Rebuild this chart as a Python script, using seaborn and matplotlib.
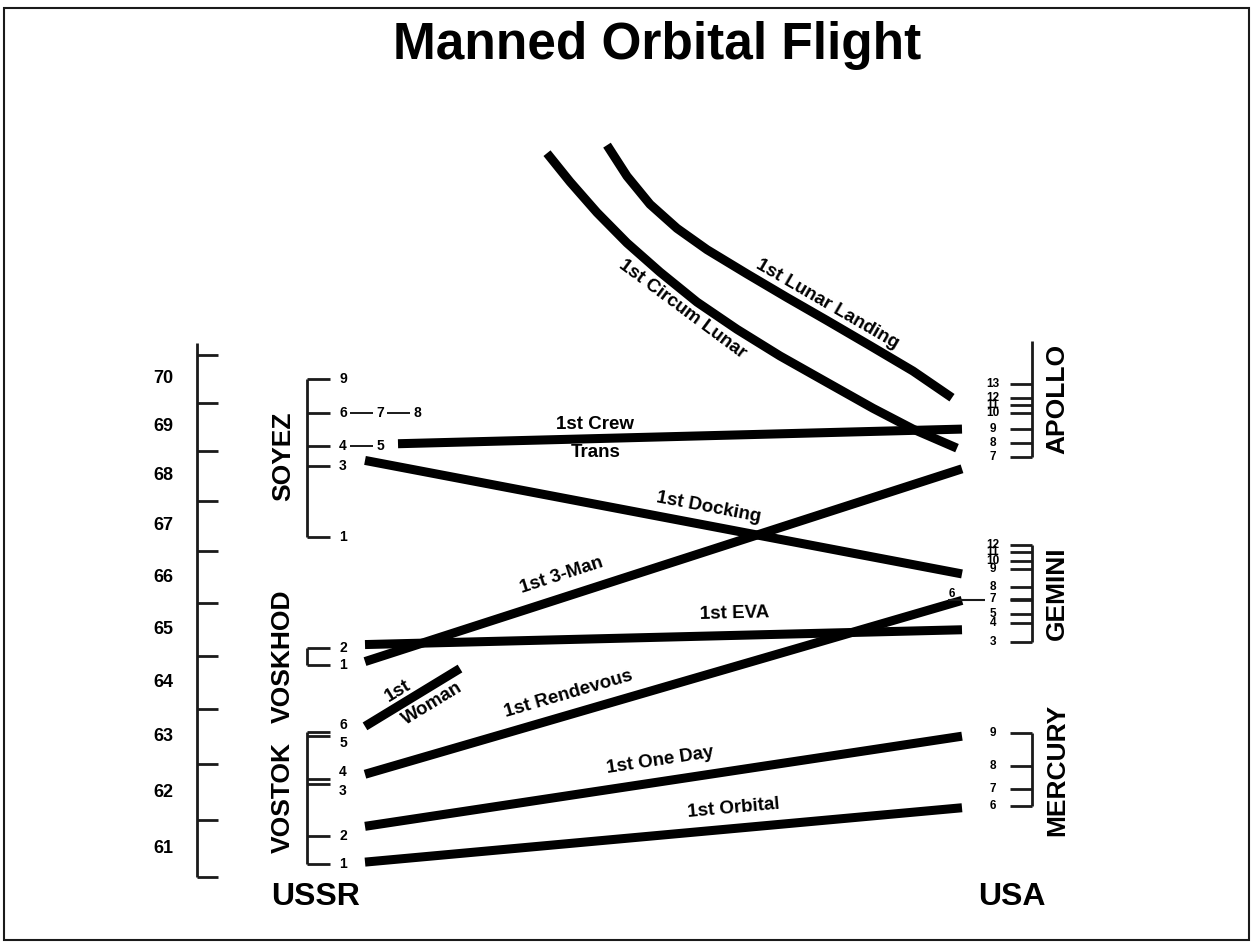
import numpy as np
import pandas as pd
import seaborn as sns
import matplotlib.pyplot as plt

# left scale, labelled 61..70
years = list(range(1961, 1971))

# Soviet flights (decimal year)
vostok_num = [1, 2, 3, 4, 5, 6]
vostok_year = [1961.23, 1961.72, 1962.64, 1962.73, 1963.51, 1963.58]
voskhod_num = [1, 2]
voskhod_year = [1964.83, 1965.15]
soyez_num = [1, 3, 4, 5, 6, 7, 8, 9]
soyez_year = [1967.28, 1968.70, 1969.11, 1969.11, 1969.79, 1969.79, 1969.79, 1970.50]

# US flights
mercury_num = [6, 7, 8, 9]
mercury_year = [1962.25, 1962.55, 1962.96, 1963.56]
gemini_num = [3, 4, 5, 6, 7, 8, 9, 10, 11, 12]
gemini_year = [1965.26, 1965.62, 1965.79, 1966.05, 1966.07, 1966.31, 1966.65, 1966.82, 1966.98, 1967.13]
apollo_num = [7, 8, 9, 10, 11, 12, 13]
apollo_year = [1968.87, 1969.17, 1969.45, 1969.79, 1969.94, 1970.09, 1970.39]
apollo_top = 1971.3

# the "firsts": year where each line leaves the USSR side / reaches the USA side
firsts = ['1st Orbital', '1st One Day', '1st Rendevous', '1st 3-Man', '1st EVA', '1st Docking', '1st Crew Trans']
ussr_year = [1961.26, 1961.89, 1962.82, 1964.89, 1965.21, 1968.81, 1969.15]
usa_year = [1962.22, 1963.51, 1966.05, 1968.64, 1965.49, 1966.56, 1969.45]

# 1st woman has no US match, just a short stub
woman_year = [1963.69, 1964.76]

# lunar flights come in from the top of the page
circum_year = [1975.52, 1974.85, 1974.14, 1973.45, 1972.80, 1972.14, 1971.55, 1970.98, 1970.42, 1969.88, 1969.45, 1969.06]
landing_year = [1975.71, 1974.98, 1974.33, 1973.78, 1973.30, 1972.76, 1972.24, 1971.74, 1971.20, 1970.66, 1970.10]

# ---- layout ----
circum_x = [547, 570, 597, 627, 660, 697, 737, 780, 827, 873, 913, 957]
landing_x = [607, 627, 650, 677, 707, 747, 787, 827, 870, 913, 952]
L, R = 365, 962          # where the lines start / end
CREW_L, WOMAN_R = 398, 460

# the original's year spacing shrinks a bit toward the top
A, B = 57.4, 0.52


def fwd(y):
    k = np.asarray(y, dtype=float) - 1961
    return A * k - B * k ** 2


def inv(u):
    u = np.asarray(u, dtype=float)
    return 1961 + (A - np.sqrt(np.maximum(A * A - 4 * B * u, 0))) / (2 * B)


sns.set_theme(style='white')
plt.rcParams['font.family'] = ['Liberation Sans', 'DejaVu Sans']
plt.rcParams['text.color'] = 'black'

fig = plt.figure(figsize=(12.53, 9.42), dpi=100)
ax = fig.add_axes([0, 0, 1, 1])
ax.set_yscale('function', functions=(fwd, inv))

rows = []
for name, y0, y1 in zip(firsts, ussr_year, usa_year):
    x0 = CREW_L if name == '1st Crew Trans' else L
    rows += [dict(event=name, x=x0, year=y0), dict(event=name, x=R, year=y1)]
rows += [dict(event='1st Woman', x=L, year=woman_year[0]),
         dict(event='1st Woman', x=WOMAN_R, year=woman_year[1])]
rows += [dict(event='1st Circum Lunar', x=x, year=y) for x, y in zip(circum_x, circum_year)]
rows += [dict(event='1st Lunar Landing', x=x, year=y) for x, y in zip(landing_x, landing_year)]
seg = pd.DataFrame(rows)

sns.lineplot(data=seg, x='x', y='year', units='event', estimator=None, sort=False,
             color='black', lw=6.5, solid_capstyle='butt', solid_joinstyle='round',
             legend=False, ax=ax)

ax.set_xlim(0, 1253)
ax.set_ylim(float(inv(-65)), float(inv(877)))
ax.axis('off')

# year scale on the left
AX_X = 197
ax.vlines(AX_X, 1961, 1971.26, color='k', lw=2)
ax.hlines(years + [1971], AX_X, AX_X + 21, color='k', lw=2)
for y in years:
    ax.text(163, y + 0.5, str(y)[2:], ha='center', va='center', fontsize=13, fontweight='bold')


def ussr_program(name, nums, yrs):
    bx = 307
    ax.vlines(bx, min(yrs), max(yrs), color='k', lw=2)
    ax.hlines(sorted(set(yrs)), bx, bx + 23, color='k', lw=2)
    chain = {}
    for n, y in zip(nums, yrs):
        j = chain.get(y, 0)
        chain[y] = j + 1
        x = 343 + 37 * j
        if j:
            ax.hlines(y, x - 30, x - 7, color='k', lw=1.4)
        va = 'center'
        if any(0 < v - y < 0.15 for v in yrs):
            va = 'top'
        elif any(0 < y - v < 0.15 for v in yrs):
            va = 'bottom'
        ax.text(x, y, str(n), ha='center', va=va, fontsize=10, fontweight='bold')
    ax.text(283, (min(yrs) + max(yrs)) / 2, name, rotation=90, ha='center', va='center',
            fontsize=19, fontweight='bold')


def usa_program(name, nums, yrs, top=None, left=()):
    bx = 1032
    hi = top if top else max(yrs)
    ax.vlines(bx, min(yrs), hi, color='k', lw=2)
    ax.hlines(yrs, bx - 22, bx, color='k', lw=2)
    for n, y in zip(nums, yrs):
        if n in left:
            ax.hlines(y, 948, 985, color='k', lw=1.5)
            ax.text(952, y, str(n), ha='center', va='bottom', fontsize=8.5, fontweight='bold')
        else:
            ax.text(993, y, str(n), ha='center', va='center', fontsize=8.5, fontweight='bold')
    ax.text(1057, (min(yrs) + hi) / 2, name, rotation=90, ha='center', va='center',
            fontsize=19, fontweight='bold')


ussr_program('VOSTOK', vostok_num, vostok_year)
ussr_program('VOSKHOD', voskhod_num, voskhod_year)
ussr_program('SOYEZ', soyez_num, soyez_year)
usa_program('MERCURY', mercury_num, mercury_year)
usa_program('GEMINI', gemini_num, gemini_year, left=(6,))
usa_program('APOLLO', apollo_num, apollo_year, top=apollo_top)


def tag(text, xs, ys, frac, off, rot=None, size=13.5):
    p0 = ax.transData.transform((xs[0], ys[0]))
    p1 = ax.transData.transform((xs[1], ys[1]))
    d = p1 - p0
    n = np.array([-d[1], d[0]]) / np.hypot(d[0], d[1])
    x, y = ax.transData.inverted().transform(p0 + frac * d + off * n)
    ang = np.degrees(np.arctan2(d[1], d[0])) if rot is None else rot
    ax.text(x, y, text, rotation=ang, rotation_mode='anchor', ha='center', va='center',
            fontsize=size, fontweight='bold')


ends = dict(zip(firsts, zip(ussr_year, usa_year)))
tag('1st Orbital', (L, R), ends['1st Orbital'], 0.62, 20)
tag('1st One Day', (L, R), ends['1st One Day'], 0.50, 21)
tag('1st Rendevous', (L, R), ends['1st Rendevous'], 0.35, 20)
tag('1st 3-Man', (L, R), ends['1st 3-Man'], 0.34, 22)
tag('1st EVA', (L, R), ends['1st EVA'], 0.62, 22)
tag('1st Docking', (L, R), ends['1st Docking'], 0.57, 18)
tag('1st Crew', (CREW_L, R), ends['1st Crew Trans'], 0.35, 14, rot=0)
tag('Trans', (CREW_L, R), ends['1st Crew Trans'], 0.35, -14, rot=0)
tag('1st', (L, WOMAN_R), woman_year, 0.42, 13)
tag('Woman', (L, WOMAN_R), woman_year, 0.62, -16)
tag('1st Circum Lunar', circum_x[4:7:2], circum_year[4:7:2], 0.42, -16)
tag('1st Lunar Landing', landing_x[6:9:2], landing_year[6:9:2], 0.40, 14)

fig.text(657 / 1253, 1 - 45 / 942, 'Manned Orbital Flight', ha='center', va='center',
         fontsize=37, fontweight='bold')
fig.text(316 / 1253, 1 - 882 / 942, 'USSR', ha='center', va='top', fontsize=23, fontweight='bold')
fig.text(1012 / 1253, 1 - 882 / 942, 'USA', ha='center', va='top', fontsize=23, fontweight='bold')
fig.add_artist(plt.Rectangle((0.003, 0.002), 0.994, 0.989, transform=fig.transFigure,
                             fill=False, lw=1.5, color='k'))

fig.savefig('out.png', dpi=100)
plt.close()
